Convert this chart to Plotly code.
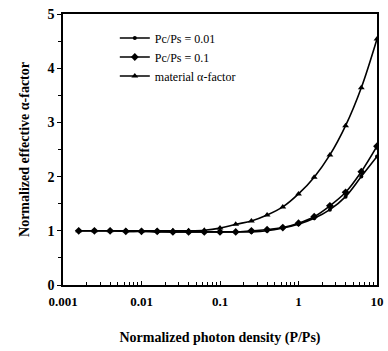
import plotly.graph_objects as go

# photon density P/Ps (log spaced markers)
log_p = [-2.8, -2.6, -2.4, -2.2, -2.0, -1.8, -1.6, -1.4, -1.2, -1.0,
         -0.8, -0.6, -0.4, -0.2, 0.0, 0.2, 0.4, 0.6, 0.8, 1.0]
photon_density = [10 ** v for v in log_p]

alpha_pc001 = [1.0, 1.0, 1.0, 0.99, 0.99, 0.98, 0.98, 0.98, 0.98, 0.98,
               0.98, 0.98, 1.0, 1.05, 1.12, 1.23, 1.39, 1.63, 2.0, 2.37]
alpha_pc01 = [1.0, 1.0, 1.0, 0.99, 0.99, 0.99, 0.98, 0.98, 0.98, 0.98,
              0.98, 1.0, 1.02, 1.06, 1.14, 1.26, 1.46, 1.71, 2.09, 2.56]
alpha_material = [1.0, 1.0, 1.0, 1.0, 1.0, 1.0, 1.0, 1.0, 1.01, 1.05,
                  1.12, 1.18, 1.29, 1.44, 1.68, 1.99, 2.40, 2.94, 3.64, 4.54]

series_names = ["Pc/Ps = 0.01", "Pc/Ps = 0.1", "material \u03b1-factor"]
series_symbols = ["circle", "diamond", "triangle-up"]
series_sizes = [4, 6, 6]
series_values = [alpha_pc001, alpha_pc01, alpha_material]

x_tickvals = [0.001, 0.01, 0.1, 1, 10]
x_ticktext = ["0.001", "0.01", "0.1", "1", "10"]
x_minor = [m * d for d in [0.001, 0.01, 0.1, 1] for m in range(2, 10)]

serif = "Liberation Serif, Times New Roman, serif"

fig = go.Figure()
for name, sym, sz, vals in zip(series_names, series_symbols, series_sizes, series_values):
    fig.add_trace(go.Scatter(
        x=photon_density, y=vals, name=name, mode="lines+markers",
        line=dict(color="black", width=1.6, shape="spline"),
        marker=dict(symbol=sym, size=sz, color="black"),
    ))

fig.update_layout(
    width=388, height=351,
    margin=dict(l=63, r=4, t=14, b=66),
    paper_bgcolor="white", plot_bgcolor="white",
    font=dict(family=serif, color="black"),
    showlegend=True,
    legend=dict(x=0.165, y=0.965, xanchor="left", yanchor="top",
                bgcolor="rgba(0,0,0,0)", font=dict(size=12, family=serif),
                itemwidth=30, tracegroupgap=0),
)
fig.update_xaxes(
    type="log", range=[-3, 1],
    tickmode="array", tickvals=x_tickvals, ticktext=x_ticktext,
    ticks="inside", ticklen=4, tickcolor="black", tickwidth=1,
    ticklabeloverflow="allow", ticklabelstandoff=4,
    minor=dict(tickmode="array", tickvals=x_minor, ticks="inside", ticklen=3,
               tickcolor="black", tickwidth=1, showgrid=False),
    showline=True, linecolor="black", linewidth=1.5, mirror=True,
    showgrid=False, zeroline=False,
    tickfont=dict(size=13, family=serif, weight="bold"),
    title=dict(text="Normalized photon density (P/Ps)",
               font=dict(size=14, family=serif, weight="bold"), standoff=24),
)
fig.update_yaxes(
    range=[0, 5], dtick=1, tick0=0,
    ticks="outside", ticklen=4, tickcolor="black", tickwidth=1,
    minor=dict(dtick=0.5, ticks="outside", ticklen=3, tickcolor="black", showgrid=False),
    showline=True, linecolor="black", linewidth=1.5, mirror=True,
    showgrid=False, zeroline=False,
    tickfont=dict(size=14, family=serif, weight="bold"),
    title=dict(text="Normalized effective \u03b1-factor",
               font=dict(size=14, family=serif, weight="bold"), standoff=15),
)

fig.write_html("out.html")
